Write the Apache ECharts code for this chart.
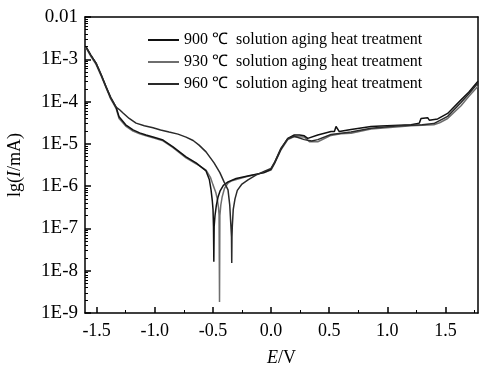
<!DOCTYPE html>
<html>
<head>
<meta charset="utf-8">
<script src="https://cdn.jsdelivr.net/npm/echarts@6/dist/echarts.min.js"></script>
<style>
html,body{margin:0;padding:0;background:#fff;}
#c{width:479px;height:367px;}
</style>
</head>
<body>
<div id="c"></div>
<script>
// Series names
var names = ['900 \u2103  solution aging heat treatment', '930 \u2103  solution aging heat treatment', '960 \u2103  solution aging heat treatment'];

// Potential E/V and lg(I/mA) values
var e900 = [-1.59,-1.55,-1.505,-1.46,-1.419,-1.38,-1.333,-1.307,-1.25,-1.187,-1.13,-1.075,-1.00,-0.929,-0.843,-0.731,-0.645,-0.559,-0.53,-0.516,-0.505,-0.499,-0.495,-0.492,-0.489,-0.482,-0.470,-0.455,-0.439,-0.41,-0.37,-0.30,-0.17,-0.06,0.0,0.03,0.086,0.144,0.20,0.245,0.286,0.316,0.402,0.516,0.545,0.559,0.587,0.688,0.86,0.946,1.204,1.275,1.29,1.347,1.361,1.433,1.519,1.634,1.70,1.78];
var lg900 = [-2.71,-2.90,-3.09,-3.37,-3.65,-3.90,-4.13,-4.36,-4.55,-4.67,-4.74,-4.79,-4.85,-4.91,-5.07,-5.31,-5.45,-5.64,-5.85,-6.09,-6.35,-6.55,-6.95,-7.79,-6.95,-6.70,-6.45,-6.25,-6.12,-5.98,-5.90,-5.82,-5.74,-5.68,-5.60,-5.45,-5.12,-4.87,-4.79,-4.79,-4.81,-4.87,-4.79,-4.71,-4.71,-4.59,-4.71,-4.66,-4.59,-4.58,-4.55,-4.51,-4.40,-4.38,-4.44,-4.41,-4.28,-3.96,-3.78,-3.52];

var e930 = [-1.59,-1.55,-1.505,-1.46,-1.419,-1.38,-1.333,-1.307,-1.25,-1.187,-1.13,-1.075,-1.00,-0.929,-0.843,-0.731,-0.645,-0.559,-0.52,-0.499,-0.475,-0.464,-0.452,-0.447,-0.443,-0.440,-0.432,-0.420,-0.40,-0.37,-0.344,-0.215,-0.06,0.0,0.03,0.086,0.144,0.20,0.286,0.33,0.402,0.516,0.60,0.688,0.86,1.075,1.204,1.30,1.40,1.45,1.519,1.634,1.70,1.78];
var lg930 = [-2.73,-2.93,-3.12,-3.40,-3.67,-3.93,-4.16,-4.40,-4.58,-4.70,-4.76,-4.81,-4.87,-4.93,-5.09,-5.33,-5.47,-5.62,-5.80,-5.97,-6.15,-6.28,-6.50,-6.68,-8.74,-6.70,-6.45,-6.25,-6.05,-5.93,-5.88,-5.78,-5.68,-5.62,-5.47,-5.14,-4.90,-4.83,-4.84,-4.95,-4.95,-4.80,-4.76,-4.75,-4.65,-4.60,-4.57,-4.56,-4.55,-4.50,-4.40,-4.10,-3.88,-3.64];

var e960 = [-1.59,-1.55,-1.505,-1.46,-1.419,-1.38,-1.333,-1.30,-1.273,-1.22,-1.161,-1.09,-1.015,-0.95,-0.877,-0.80,-0.731,-0.67,-0.619,-0.559,-0.49,-0.44,-0.404,-0.37,-0.355,-0.345,-0.340,-0.338,-0.336,-0.333,-0.325,-0.31,-0.29,-0.25,-0.198,-0.13,-0.06,0.0,0.03,0.086,0.144,0.20,0.286,0.35,0.402,0.516,0.688,0.86,1.075,1.204,1.30,1.40,1.519,1.634,1.70,1.78];
var lg960 = [-2.71,-2.90,-3.09,-3.37,-3.65,-3.90,-4.13,-4.20,-4.27,-4.40,-4.51,-4.57,-4.62,-4.67,-4.72,-4.77,-4.84,-4.92,-5.03,-5.19,-5.45,-5.68,-5.90,-6.09,-6.45,-6.95,-7.20,-7.82,-7.20,-6.95,-6.55,-6.30,-6.10,-5.95,-5.85,-5.74,-5.65,-5.58,-5.44,-5.10,-4.88,-4.82,-4.90,-4.93,-4.90,-4.78,-4.72,-4.63,-4.58,-4.56,-4.55,-4.52,-4.35,-4.02,-3.82,-3.56];

// Axis ticks
var xTicks = [-1.5,-1.0,-0.5,0.0,0.5,1.0,1.5];
var xMinorTicks = [-1.25,-0.75,-0.25,0.25,0.75,1.25,1.75];
var yTicks = [-9,-8,-7,-6,-5,-4,-3,-2];
var yTickLabels = ['1E-9','1E-8','1E-7','1E-6','1E-5','1E-4','1E-3','0.01'];

function pairs(xs, ys){ var out=[]; for(var i=0;i<xs.length;i++){ out.push([xs[i], ys[i]]); } return out; }
var yMinor = [];
for (var d=-9; d<-2; d++){ for (var k=2;k<=9;k++){ yMinor.push(d + Math.log10(k)); } }

var FONT = 'Liberation Serif';
var chart = echarts.init(document.getElementById('c'), null, {renderer:'canvas'});
var colors = ['#111111','#6e6e6e','#2a2a2a'];
var lineAxis = {show:true, onZero:false, lineStyle:{color:'#000', width:1.5}};
var noLine = {show:false, onZero:false};

chart.setOption({
  animation:false,
  backgroundColor:'#fff',
  grid:{left:85, right:1, top:17, bottom:54, containLabel:false, outerBoundsMode:'none'},
  legend:{
    data:names, orient:'vertical', left:147, top:32, padding:0,
    itemWidth:31, itemHeight:14, itemGap:6, itemStyle:{opacity:0},
    textStyle:{fontFamily:FONT, fontSize:16, color:'#000'}
  },
  xAxis:[
    {type:'value', min:-1.6, max:1.78, position:'bottom',
     axisLine:lineAxis, splitLine:{show:false},
     axisTick:{show:true, inside:true, length:6, customValues:xTicks, lineStyle:{color:'#000', width:1.5}},
     axisLabel:{show:true, customValues:xTicks, margin:9, fontFamily:FONT, fontSize:18, color:'#000',
       formatter:function(v){ return v.toFixed(1); }},
     name:'{i|E}/V', nameLocation:'middle', nameGap:36,
     nameTextStyle:{fontFamily:FONT, fontSize:18, color:'#000', rich:{i:{fontFamily:FONT, fontSize:18, fontStyle:'italic', color:'#000'}}}
    },
    {type:'value', min:-1.6, max:1.78, position:'bottom',
     axisLine:noLine, splitLine:{show:false}, axisLabel:{show:false},
     axisTick:{show:true, inside:true, length:3, customValues:xMinorTicks, lineStyle:{color:'#000', width:1}}
    },
    {type:'value', min:-1.6, max:1.78, position:'top',
     axisLine:lineAxis, splitLine:{show:false}, axisLabel:{show:false}, axisTick:{show:false}
    }
  ],
  yAxis:[
    {type:'value', min:-9, max:-2, interval:1, position:'left',
     axisLine:lineAxis, splitLine:{show:false},
     axisTick:{show:true, inside:true, length:6, lineStyle:{color:'#000', width:1.5}},
     axisLabel:{show:true, margin:7, fontFamily:FONT, fontSize:19, color:'#000',
       formatter:function(v){ var i = yTicks.indexOf(Math.round(v)); return i>=0 ? yTickLabels[i] : ''; }},
     name:'lg({i|I}/mA)', nameLocation:'middle', nameGap:61, nameRotate:90,
     nameTextStyle:{fontFamily:FONT, fontSize:18, color:'#000', rich:{i:{fontFamily:FONT, fontSize:18, fontStyle:'italic', color:'#000'}}}
    },
    {type:'value', min:-9, max:-2, position:'left',
     axisLine:noLine, splitLine:{show:false}, axisLabel:{show:false},
     axisTick:{show:true, inside:true, length:3, customValues:yMinor, lineStyle:{color:'#000', width:1}}
    },
    {type:'value', min:-9, max:-2, position:'right',
     axisLine:lineAxis, splitLine:{show:false}, axisLabel:{show:false}, axisTick:{show:false}
    }
  ],
  series:[
    {name:names[0], type:'line', data:pairs(e900, lg900), symbol:'none', color:colors[0], lineStyle:{color:colors[0], width:1.5}, z:3},
    {name:names[1], type:'line', data:pairs(e930, lg930), symbol:'none', color:colors[1], lineStyle:{color:colors[1], width:1.5}, z:2},
    {name:names[2], type:'line', data:pairs(e960, lg960), symbol:'none', color:colors[2], lineStyle:{color:colors[2], width:1.5}, z:4}
  ]
});
</script>
</body>
</html>
